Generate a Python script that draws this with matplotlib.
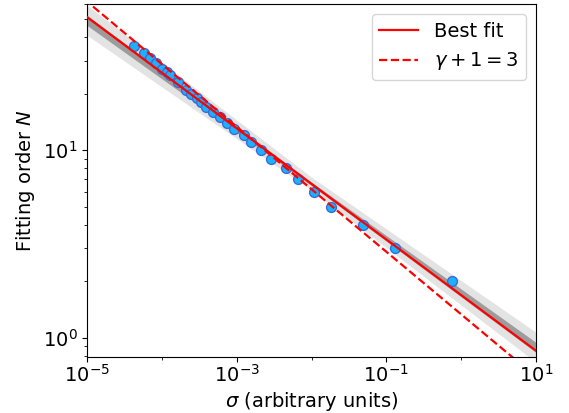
import numpy as np
import matplotlib
matplotlib.use("Agg")
import matplotlib.pyplot as plt
from matplotlib.ticker import LogLocator, NullFormatter

# Data
sigma = [4.28e-5, 5.69e-5, 6.85e-5, 8.24e-5, 9.9e-5, 1.16e-4, 1.29e-4, 1.65e-4,
         2.11e-4, 2.46e-4, 2.91e-4, 3.34e-4, 3.90e-4, 4.83e-4, 6.0e-4, 7.44e-4,
         9.23e-4, 1.24e-3, 1.56e-3, 2.12e-3, 2.88e-3, 4.57e-3, 6.52e-3, 1.08e-2,
         1.83e-2, 4.90e-2, 0.129, 0.746]
order_N = [36, 33, 31, 29, 27, 26, 25, 23, 21, 20, 19, 18, 17, 16, 15, 14,
           13, 12, 11, 10, 9, 8, 7, 6, 5, 4, 3, 2]
x_major_ticks = [1e-5, 1e-3, 1e-1, 1e1]

# Best fit: log10 N = fit_intercept + fit_slope * log10 sigma
fit_intercept = 0.2275
fit_slope = -0.2963
# Reference line gamma + 1 = 3
ref_intercept = 0.125
ref_slope = -1.0 / 3.0
# Uncertainty bands (in dex)
band_slope = -0.2905
band_pivot = -2.0
dark_hw = (0.009, 0.006)
light_hw = (0.035, 0.015)

plt.rcParams['font.size'] = 14
fig = plt.figure(figsize=(5.69, 4.13), dpi=100)
ax = fig.add_axes([0.153, 0.1356, 0.789, 0.8544])

lx = np.linspace(-5.5, 1.5, 400)
xs = 10 ** lx
fit = fit_intercept + fit_slope * lx
piv_val = fit_intercept + fit_slope * band_pivot
center = piv_val + band_slope * (lx - band_pivot)

hw_l = light_hw[0] + light_hw[1] * np.abs(lx - band_pivot)
hw_d = dark_hw[0] + dark_hw[1] * np.abs(lx - band_pivot)
ax.fill_between(xs, 10 ** (center - hw_l), 10 ** (center + hw_l), color='#e3e3e3', lw=0, zorder=1)
ax.fill_between(xs, 10 ** (center - hw_d), 10 ** (center + hw_d), color='#9c9c9c', lw=0, zorder=2)

ax.scatter(sigma, order_N, s=50, facecolor='#1ab2ff', edgecolor='#3a6ad6', linewidth=1.0, zorder=3)

ax.plot(xs, 10 ** fit, color='red', lw=1.6, zorder=4, label='Best fit')
ax.plot(xs, 10 ** (ref_intercept + ref_slope * lx), color='red', lw=1.6, ls='--', zorder=4,
        label=r'$\gamma+1=3$')

ax.set_xscale('log')
ax.set_yscale('log')
ax.set_xlim(1e-5, 1e1)
ax.set_ylim(0.79, 60)
ax.set_xticks(x_major_ticks)
ax.xaxis.set_minor_locator(LogLocator(base=10, subs=(1.0,), numticks=20))
ax.xaxis.set_minor_formatter(NullFormatter())
ax.tick_params(axis='x', which='major', pad=1.5)
ax.set_xlabel(r'$\sigma$ (arbitrary units)', labelpad=3)
ax.set_ylabel(r'Fitting order $N$')
ax.legend(loc='upper right')

fig.savefig('out.png', dpi=100)
